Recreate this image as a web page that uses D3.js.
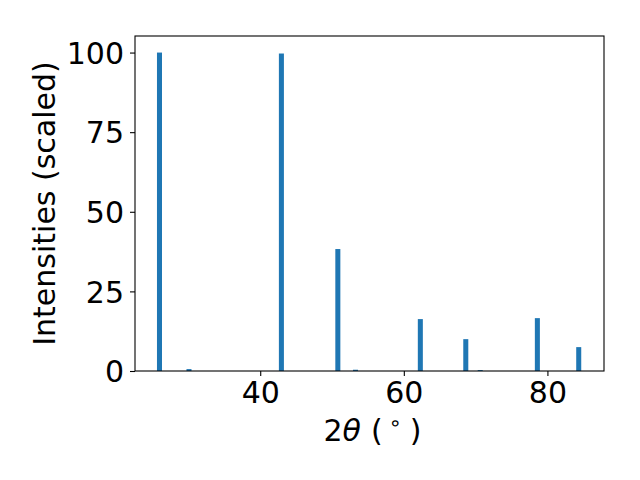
<!DOCTYPE html>
<html>
<head>
<meta charset="utf-8">
<script src="https://cdn.jsdelivr.net/npm/d3@7"></script>
<style>
  body { margin: 0; background: #fff; }
  text { font-family: "DejaVu Sans", sans-serif; fill: #000; }
</style>
</head>
<body>
<svg id="chart" width="640" height="480"></svg>
<script>
// peak positions (2theta, degrees) and scaled intensities
var twoTheta = [25.97, 30.08, 42.95, 50.81, 53.27, 62.30, 68.63, 70.64, 78.60, 84.36];
var intensity = [100, 0.6, 99.7, 38.3, 0.4, 16.3, 10.0, 0.3, 16.6, 7.5];
var xTicks = [40, 60, 80];
var yTicks = [0, 25, 50, 75, 100];

var barWidth = 0.7;
var fontSize = 30;

var svg = d3.select('#chart');
var plotL = 135, plotR = 604, plotT = 36, plotB = 371;

// x domain padded like matplotlib's 5% margins
var x = d3.scaleLinear().domain([22.56, 87.88]).range([plotL, plotR]);
var y = d3.scaleLinear().domain([0, 105.2]).range([plotB, plotT]);

svg.append('rect')
    .attr('width', 640).attr('height', 480)
    .style('fill', '#fff');

var peaks = twoTheta.map(function(t, i) { return {t: t, v: intensity[i]}; });

svg.append('g').selectAll('rect')
    .data(peaks)
  .enter()
    .append('rect')
    .attr('x', function(d) { return x(d.t - barWidth / 2); })
    .attr('width', function(d) { return x(d.t + barWidth / 2) - x(d.t - barWidth / 2); })
    .attr('y', function(d) { return y(d.v); })
    .attr('height', function(d) { return y(0) - y(d.v); })
    .style('fill', '#1f77b4');

// axes
var xAxis = svg.append('g')
    .attr('transform', 'translate(0,' + plotB + ')')
    .call(d3.axisBottom(x).tickValues(xTicks).tickSize(5).tickPadding(6));
var yAxis = svg.append('g')
    .attr('transform', 'translate(' + plotL + ',0)')
    .call(d3.axisLeft(y).tickValues(yTicks).tickSize(5).tickPadding(6));

[xAxis, yAxis].forEach(function(a) {
    a.attr('font-family', null).attr('font-size', null);
    a.select('.domain').remove();
    a.selectAll('line').style('stroke', '#000').style('stroke-width', 1.1);
    a.selectAll('text')
        .style('font-family', '"DejaVu Sans", sans-serif')
        .style('font-size', fontSize + 'px');
});
xAxis.selectAll('text').attr('dy', '0.71em');
yAxis.selectAll('text').attr('dy', '0.36em');

// frame
svg.append('rect')
    .attr('x', plotL).attr('y', plotT)
    .attr('width', plotR - plotL).attr('height', plotB - plotT)
    .style('fill', 'none').style('stroke', '#000').style('stroke-width', 1.1);

// axis labels
var xl = svg.append('text')
    .attr('x', 323.5).attr('y', 441)
    .style('font-size', fontSize + 'px');
xl.append('tspan').text('2');
xl.append('tspan').style('font-style', 'italic').text('θ');
xl.append('tspan').attr('dx', 10).text('(');
xl.append('tspan').attr('dx', 6).attr('dy', -11).style('font-size', '21px').text('∘');
xl.append('tspan').attr('dx', 8).attr('dy', 11).text(')');

svg.append('text')
    .attr('transform', 'translate(54.5,' + (plotT + plotB) / 2 + ') rotate(-90)')
    .attr('text-anchor', 'middle')
    .style('font-size', fontSize + 'px')
    .text('Intensities (scaled)');
</script>
</body>
</html>
